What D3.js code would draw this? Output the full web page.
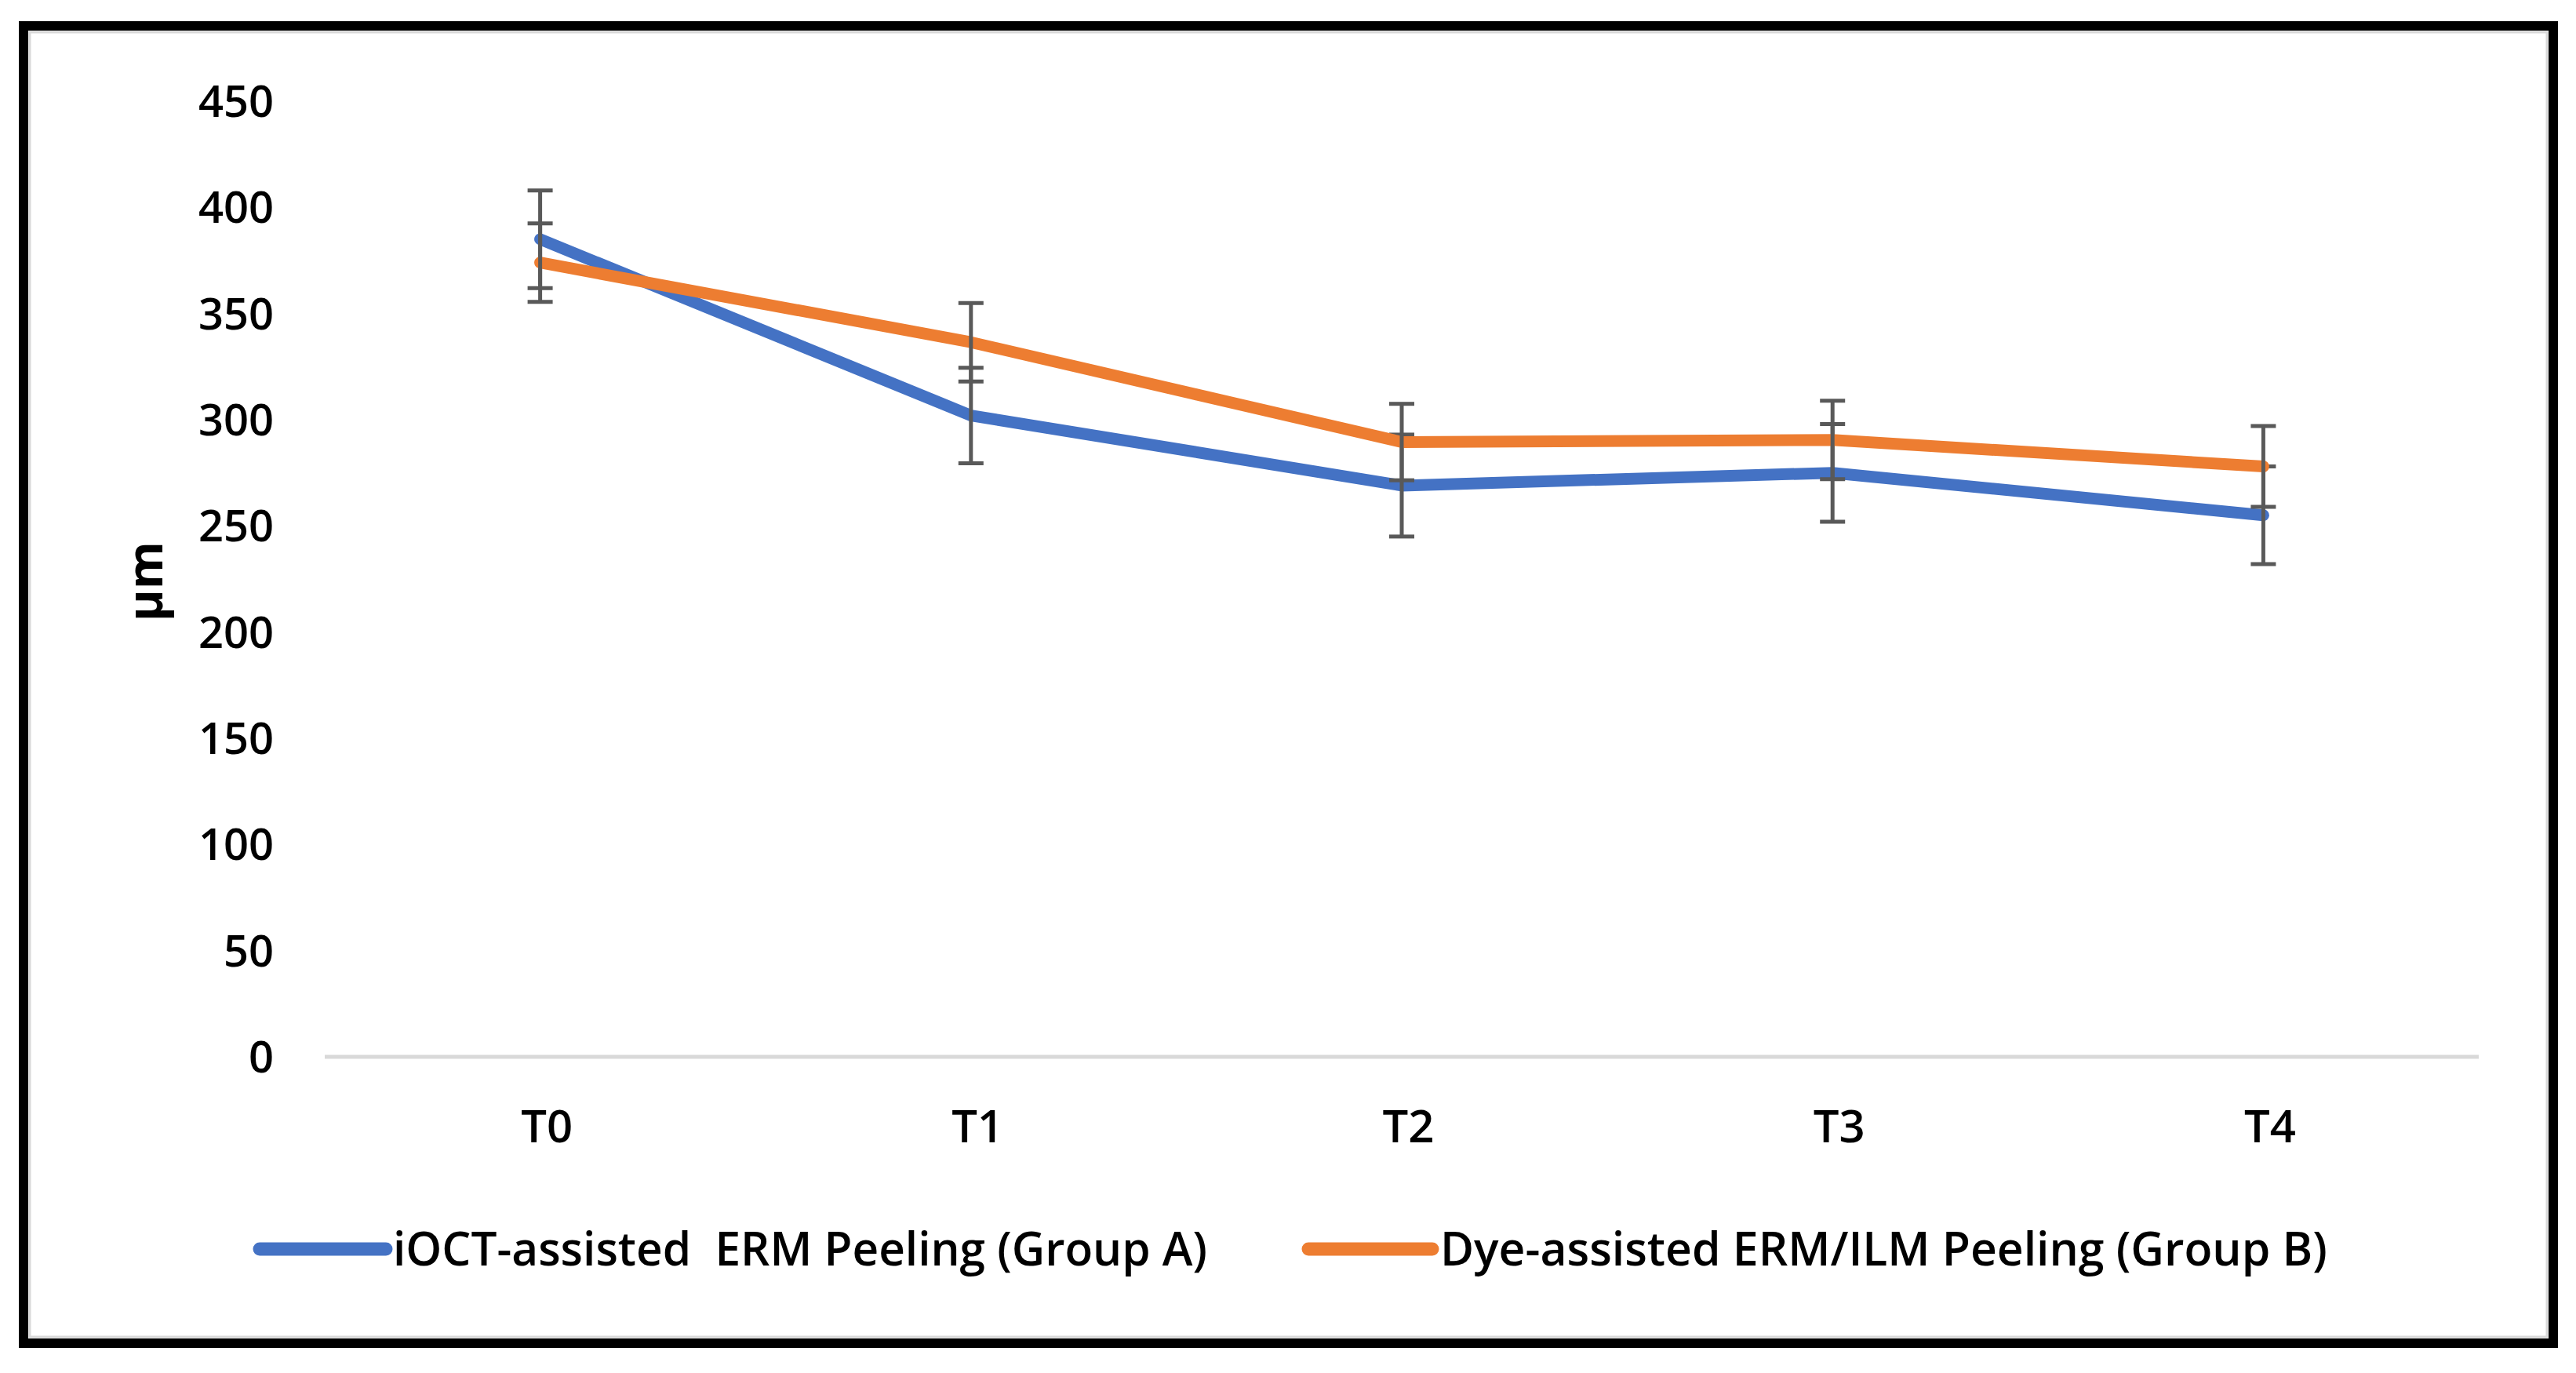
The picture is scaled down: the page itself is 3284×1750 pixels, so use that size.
<!DOCTYPE html>
<html>
<head>
<meta charset="utf-8">
<script src="https://cdn.jsdelivr.net/npm/d3@7"></script>
<style>
  html, body { margin: 0; padding: 0; background: #fff; }
  svg text { font-family: "Open Sans", "DejaVu Sans", sans-serif; fill: #000; font-weight: 600; }
</style>
</head>
<body>
<div class="chart"></div>
<script>
// Data
const categories = ['T0', 'T1', 'T2', 'T3', 'T4'];
const groupA = [385, 302, 269, 275, 255];      // iOCT-assisted
const groupB = [374, 336.5, 289.5, 290.5, 278]; // dye-assisted
const sdA = [23, 22.5, 24, 23, 23];
const sdB = [18.5, 18.5, 18, 18.5, 19];
const yTicks = [0, 50, 100, 150, 200, 250, 300, 350, 400, 450];
const seriesNames = ['iOCT-assisted  ERM Peeling (Group A)', 'Dye-assisted ERM/ILM Peeling (Group B)'];
const colors = ['#4472C4', '#ED7D31'];

// SVG dimensions
const width = 3284;
const height = 1750;
const plot = { left: 414, right: 3160, top: 129, bottom: 1347 };

const svg = d3.select('.chart')
  .append('svg')
  .attr('width', width)
  .attr('height', height);

// Frame
svg.append('rect')
  .attr('x', 30).attr('y', 33)
  .attr('width', 3225).attr('height', 1679)
  .attr('fill', '#fff')
  .attr('stroke', '#000')
  .attr('stroke-width', 12);
svg.append('rect')
  .attr('x', 38).attr('y', 41)
  .attr('width', 3209).attr('height', 1663)
  .attr('fill', 'none')
  .attr('stroke', '#d9d9d9')
  .attr('stroke-width', 3);

// Scales
const x = d3.scalePoint()
  .domain(categories)
  .range([plot.left, plot.right])
  .padding(0.5);

const y = d3.scaleLinear()
  .domain([0, 450])
  .range([plot.bottom, plot.top]);

// Y axis (labels only)
const yAxis = svg.append('g')
  .attr('transform', `translate(${plot.left},0)`)
  .call(d3.axisLeft(y).tickValues(yTicks).tickSize(0).tickPadding(65));
yAxis.select('.domain').remove();
yAxis.selectAll('text')
  .style('font-size', '56px')
  .attr('dy', '0.35em');

// X axis with the 0 line
const xAxis = svg.append('g')
  .attr('transform', `translate(0,${plot.bottom})`)
  .call(d3.axisBottom(x).tickSize(0).tickPadding(0));
xAxis.select('.domain')
  .attr('d', `M${plot.left},0H${plot.right}`)
  .attr('stroke', '#d9d9d9')
  .attr('stroke-width', 5);
xAxis.selectAll('text')
  .style('font-size', '58px')
  .attr('y', 89)
  .attr('dx', 8)
  .attr('dy', '0.35em');

// Y axis title
svg.append('text')
  .attr('transform', `translate(207,741) rotate(-90)`)
  .attr('text-anchor', 'middle')
  .style('font-size', '62px')
  .style('font-weight', 700)
  .text('µm');

// Lines and error bars
const line = d3.line()
  .x((d, i) => x(categories[i]))
  .y(d => y(d));

const series = [
  { values: groupA, sd: sdA },
  { values: groupB, sd: sdB },
];

series.forEach((s, k) => {
  svg.append('path')
    .datum(s.values)
    .attr('fill', 'none')
    .attr('stroke', colors[k])
    .attr('stroke-width', 15)
    .attr('stroke-linejoin', 'round')
    .attr('stroke-linecap', 'round')
    .attr('d', line);

  const bars = svg.append('g')
    .attr('stroke', '#595959')
    .attr('stroke-width', 5);

  s.values.forEach((v, i) => {
    const cx = x(categories[i]);
    const top = y(v + s.sd[i]);
    const bot = y(v - s.sd[i]);
    bars.append('line').attr('x1', cx).attr('x2', cx).attr('y1', top).attr('y2', bot);
    bars.append('line').attr('x1', cx - 16).attr('x2', cx + 16).attr('y1', top).attr('y2', top);
    bars.append('line').attr('x1', cx - 16).attr('x2', cx + 16).attr('y1', bot).attr('y2', bot);
  });
});

// Legend
const legendItems = [
  { x1: 331, x2: 492, tx: 501, tw: 1038 },
  { x1: 1668, x2: 1826, tx: 1836, tw: 1131 },
];
const legendY = 1592;

legendItems.forEach((d, k) => {
  svg.append('line')
    .attr('x1', d.x1).attr('x2', d.x2)
    .attr('y1', legendY).attr('y2', legendY)
    .attr('stroke', colors[k])
    .attr('stroke-width', 17)
    .attr('stroke-linecap', 'round');
  svg.append('text')
    .attr('x', d.tx)
    .attr('y', legendY)
    .attr('dy', '0.35em')
    .attr('textLength', d.tw)
    .attr('lengthAdjust', 'spacingAndGlyphs')
    .style('font-size', '60px')
    .style('white-space', 'pre')
    .text(seriesNames[k]);
});
</script>
</body>
</html>
